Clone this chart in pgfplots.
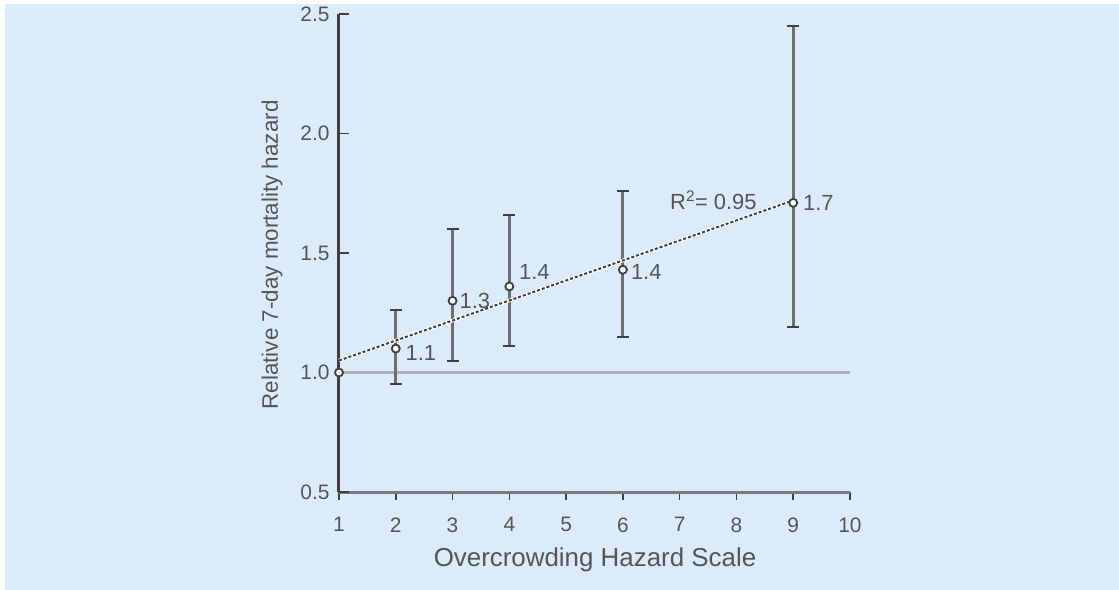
\documentclass[border=0pt]{standalone}
\usepackage{fontspec}
\setmainfont{Liberation Sans}
\usepackage{pgfplots}
\pgfplotsset{compat=1.18}
\definecolor{bgblue}{HTML}{DCEBFB}
\definecolor{txt}{HTML}{555555}
\definecolor{axdark}{HTML}{404040}
\definecolor{axgray}{HTML}{7A7A7A}
\definecolor{refgray}{HTML}{B0B0B0}
\definecolor{errgray}{HTML}{6E6E6E}
\begin{document}
\begin{tikzpicture}
\useasboundingbox (-339bp,-98bp) rectangle (780bp,492bp);
\fill[white] (-339bp,-98bp) rectangle (780bp,492bp);
\fill[bgblue] (-334bp,-98bp) rectangle (780bp,488bp);
\begin{axis}[
  at={(0,0)}, anchor=south west,
  scale only axis, width=511bp, height=478bp,
  xmin=1, xmax=10, ymin=0.5, ymax=2.5,
  axis lines*=left,
  x axis line style={axgray, line width=3bp},
  y axis line style={axdark, line width=3bp},
  xtick={1,...,10}, ytick={0.5,1.0,1.5,2.0,2.5},
  tick align=outside,
  major tick length=8bp,
  x tick style={axdark, line width=1.5bp},
  y tick style={draw=none},
  /pgf/number format/assume math mode=true,
  yticklabel style={/pgf/number format/fixed, /pgf/number format/fixed zerofill, /pgf/number format/precision=1, font=\fontsize{21}{24}\selectfont, text=txt, xshift=2bp},
  xticklabel style={font=\fontsize{21}{24}\selectfont, text=txt, yshift=-14bp},
  xlabel={Overcrowding Hazard Scale},
  ylabel={Relative 7-day mortality hazard},
  every axis x label/.style={at={(axis description cs:0.501,-0.142)}, anchor=center, font=\fontsize{26}{30}\selectfont, text=txt},
  every axis y label/.style={at={(axis description cs:-0.131,0.496)}, anchor=center, rotate=90, font=\fontsize{22.5}{26}\selectfont, text=txt},
  clip=false,
]
% inward y ticks
\pgfplotsinvokeforeach{0.5,1.0,1.5,2.0,2.5}{
  \draw[axdark, line width=1.5bp] (axis cs:1,#1) -- ([xshift=10bp]axis cs:1,#1);
}
% reference line at 1.0
\addplot[refgray, line width=3bp] coordinates {(1,1) (10,1)};
% error bars
\addplot[draw=none, mark=none,
  error bars/.cd, y dir=both, y explicit,
  error bar style={errgray, line width=3bp},
  error mark options={axdark, line width=2bp, mark size=6bp, rotate=90}]
  coordinates {
  (2,1.10) += (0,0.16) -= (0,0.15)
  (3,1.30) += (0,0.30) -= (0,0.25)
  (4,1.36) += (0,0.30) -= (0,0.25)
  (6,1.43) += (0,0.33) -= (0,0.28)
  (9,1.71) += (0,0.74) -= (0,0.52)
  };
% trend line
\addplot[white, line width=3.5bp] coordinates {(1,1.05) (9,1.72)};
\addplot[axdark, line width=2bp, dash pattern=on 3bp off 2bp] coordinates {(1,1.05) (9,1.72)};
% points
\addplot[only marks, mark=*, mark size=4bp, mark options={fill=white, draw=axdark, line width=1.8bp}]
  coordinates {(1,1.00) (2,1.10) (3,1.30) (4,1.36) (6,1.43) (9,1.71)};
% labels
\begin{scope}[every node/.style={font=\fontsize{22}{24}\selectfont, text=txt, anchor=west, inner sep=0pt}]
\node at (axis cs:2.17,1.08) {1.1};
\node at (axis cs:3.12,1.30) {1.3};
\node at (axis cs:4.17,1.42) {1.4};
\node at (axis cs:6.14,1.42) {1.4};
\node at (axis cs:9.17,1.71) {1.7};
\node at (axis cs:6.83,1.72) {R\textsuperscript{2}= 0.95};
\end{scope}
\end{axis}
\end{tikzpicture}
\end{document}
